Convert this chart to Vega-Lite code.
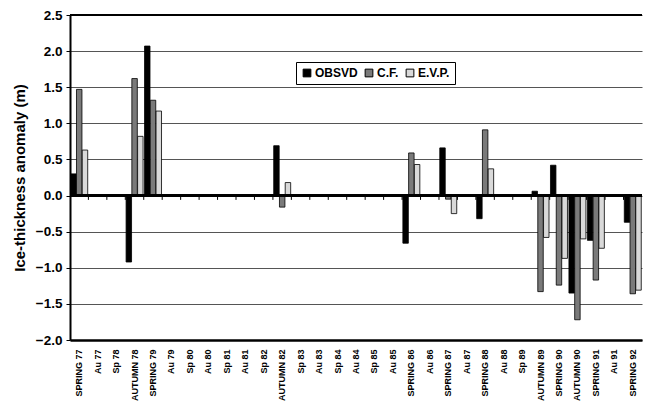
{
  "$schema": "https://vega.github.io/schema/vega-lite/v6.json",
  "autosize": {"type": "none"},
  "padding": {"left": 70, "top": 15, "right": 3, "bottom": 63},
  "width": 572,
  "height": 325,
  "background": "white",
  "config": {
    "view": {"stroke": null},
    "font": "Liberation Sans"
  },
  "datasets": {
    "bars": [
      {"period": "SPRING 77", "series": "OBSVD", "value": 0.3},
      {"period": "SPRING 77", "series": "C.F.", "value": 1.47},
      {"period": "SPRING 77", "series": "E.V.P.", "value": 0.63},
      {"period": "AUTUMN 78", "series": "OBSVD", "value": -0.92},
      {"period": "AUTUMN 78", "series": "C.F.", "value": 1.62},
      {"period": "AUTUMN 78", "series": "E.V.P.", "value": 0.82},
      {"period": "SPRING 79", "series": "OBSVD", "value": 2.07},
      {"period": "SPRING 79", "series": "C.F.", "value": 1.32},
      {"period": "SPRING 79", "series": "E.V.P.", "value": 1.17},
      {"period": "AUTUMN 82", "series": "OBSVD", "value": 0.69},
      {"period": "AUTUMN 82", "series": "C.F.", "value": -0.16},
      {"period": "AUTUMN 82", "series": "E.V.P.", "value": 0.18},
      {"period": "SPRING 86", "series": "OBSVD", "value": -0.66},
      {"period": "SPRING 86", "series": "C.F.", "value": 0.59},
      {"period": "SPRING 86", "series": "E.V.P.", "value": 0.43},
      {"period": "SPRING 87", "series": "OBSVD", "value": 0.66},
      {"period": "SPRING 87", "series": "C.F.", "value": -0.05},
      {"period": "SPRING 87", "series": "E.V.P.", "value": -0.25},
      {"period": "SPRING 88", "series": "OBSVD", "value": -0.32},
      {"period": "SPRING 88", "series": "C.F.", "value": 0.91},
      {"period": "SPRING 88", "series": "E.V.P.", "value": 0.37},
      {"period": "AUTUMN 89", "series": "OBSVD", "value": 0.06},
      {"period": "AUTUMN 89", "series": "C.F.", "value": -1.33},
      {"period": "AUTUMN 89", "series": "E.V.P.", "value": -0.58},
      {"period": "SPRING 90", "series": "OBSVD", "value": 0.42},
      {"period": "SPRING 90", "series": "C.F.", "value": -1.24},
      {"period": "SPRING 90", "series": "E.V.P.", "value": -0.87},
      {"period": "AUTUMN 90", "series": "OBSVD", "value": -1.35},
      {"period": "AUTUMN 90", "series": "C.F.", "value": -1.72},
      {"period": "AUTUMN 90", "series": "E.V.P.", "value": -0.6},
      {"period": "SPRING 91", "series": "OBSVD", "value": -0.62},
      {"period": "SPRING 91", "series": "C.F.", "value": -1.17},
      {"period": "SPRING 91", "series": "E.V.P.", "value": -0.73},
      {"period": "SPRING 92", "series": "OBSVD", "value": -0.37},
      {"period": "SPRING 92", "series": "C.F.", "value": -1.36},
      {"period": "SPRING 92", "series": "E.V.P.", "value": -1.31}
    ],
    "periods": [
      {"period": "SPRING 77"}, {"period": "Au 77"}, {"period": "Sp 78"}, {"period": "AUTUMN 78"}, {"period": "SPRING 79"}, {"period": "Au 79"}, {"period": "Sp 80"}, {"period": "Au 80"}, {"period": "Sp 81"}, {"period": "Au 81"}, {"period": "Sp 82"}, {"period": "AUTUMN 82"}, {"period": "Sp 83"}, {"period": "Au 83"}, {"period": "Sp 84"}, {"period": "Au 84"}, {"period": "Sp 85"}, {"period": "Au 85"}, {"period": "SPRING 86"}, {"period": "Au 86"}, {"period": "SPRING 87"}, {"period": "Au 87"}, {"period": "SPRING 88"}, {"period": "Au 88"}, {"period": "Sp 89"}, {"period": "AUTUMN 89"}, {"period": "SPRING 90"}, {"period": "AUTUMN 90"}, {"period": "SPRING 91"}, {"period": "Au 91"}
    ]
  },
  "layer": [
    {
      "data": {"name": "bars"},
      "mark": {"type": "bar", "stroke": "black", "strokeWidth": 0.8},
      "encoding": {
        "x": {
          "field": "period",
          "type": "nominal",
          "sort": null,
          "scale": {
            "domain": ["SPRING 77", "Au 77", "Sp 78", "AUTUMN 78", "SPRING 79", "Au 79", "Sp 80", "Au 80", "Sp 81", "Au 81", "Sp 82", "AUTUMN 82", "Sp 83", "Au 83", "Sp 84", "Au 84", "Sp 85", "Au 85", "SPRING 86", "Au 86", "SPRING 87", "Au 87", "SPRING 88", "Au 88", "Sp 89", "AUTUMN 89", "SPRING 90", "AUTUMN 90", "SPRING 91", "Au 91", "SPRING 92"],
            "paddingInner": 0.08,
            "paddingOuter": 0.04
          },
          "axis": {
            "title": null,
            "labelAngle": -90,
            "labelAlign": "right",
            "labelBaseline": "middle",
            "labelFontSize": 9,
            "labelFontWeight": "bold",
            "labelColor": "black",
            "labelPadding": 9,
            "ticks": false,
            "domainColor": "black",
            "domainWidth": 2.5
          }
        },
        "xOffset": {"field": "series", "type": "nominal", "scale": {"domain": ["OBSVD", "C.F.", "E.V.P."], "paddingInner": 0.05}},
        "y": {
          "field": "value",
          "type": "quantitative",
          "scale": {"domain": [-2, 2.5], "nice": false},
          "axis": {
            "title": "Ice-thickness anomaly (m)",
            "titleFontSize": 15,
            "titleFontWeight": "bold",
            "titleColor": "black",
            "titlePadding": 8,
            "tickCount": 9,
            "format": ".1f",
            "labelFontSize": 13.5,
            "labelFontWeight": "bold",
            "labelColor": "black",
            "labelPadding": 4,
            "grid": true,
            "gridColor": "#555555",
            "gridWidth": 1,
            "domainColor": "black",
            "domainWidth": 2,
            "tickColor": "black",
            "tickSize": 4
          }
        },
        "fill": {
          "field": "series",
          "type": "nominal",
          "scale": {"domain": ["OBSVD", "C.F.", "E.V.P."], "range": ["#000000", "#7a7a7a", "#d9d9d9"]},
          "legend": {
            "title": null,
            "orient": "none",
            "direction": "horizontal",
            "legendX": 226,
            "legendY": 47,
            "symbolType": "square",
            "symbolSize": 60,
            "symbolStrokeColor": "black",
            "symbolStrokeWidth": 1,
            "labelFontSize": 12,
            "labelFontWeight": "bold",
            "labelColor": "black",
            "labelOffset": 2,
            "columnPadding": 5,
            "strokeColor": "black",
            "padding": 5,
            "fillColor": "white"
          }
        }
      }
    },
    {
      "data": {"name": "periods"},
      "mark": {"type": "rule", "color": "black", "strokeWidth": 1},
      "encoding": {
        "x": {"field": "period", "type": "nominal", "sort": null, "bandPosition": 1.04},
        "y": {"datum": 0},
        "y2": {"datum": -0.06}
      }
    },
    {
      "data": {"name": "periods"},
      "mark": {"type": "rule", "color": "black", "strokeWidth": 2},
      "encoding": {"y": {"datum": 0}}
    },
    {
      "data": {"name": "periods"},
      "mark": {"type": "rule", "color": "black", "strokeWidth": 2},
      "encoding": {"y": {"datum": 2.5}}
    }
  ]
}
